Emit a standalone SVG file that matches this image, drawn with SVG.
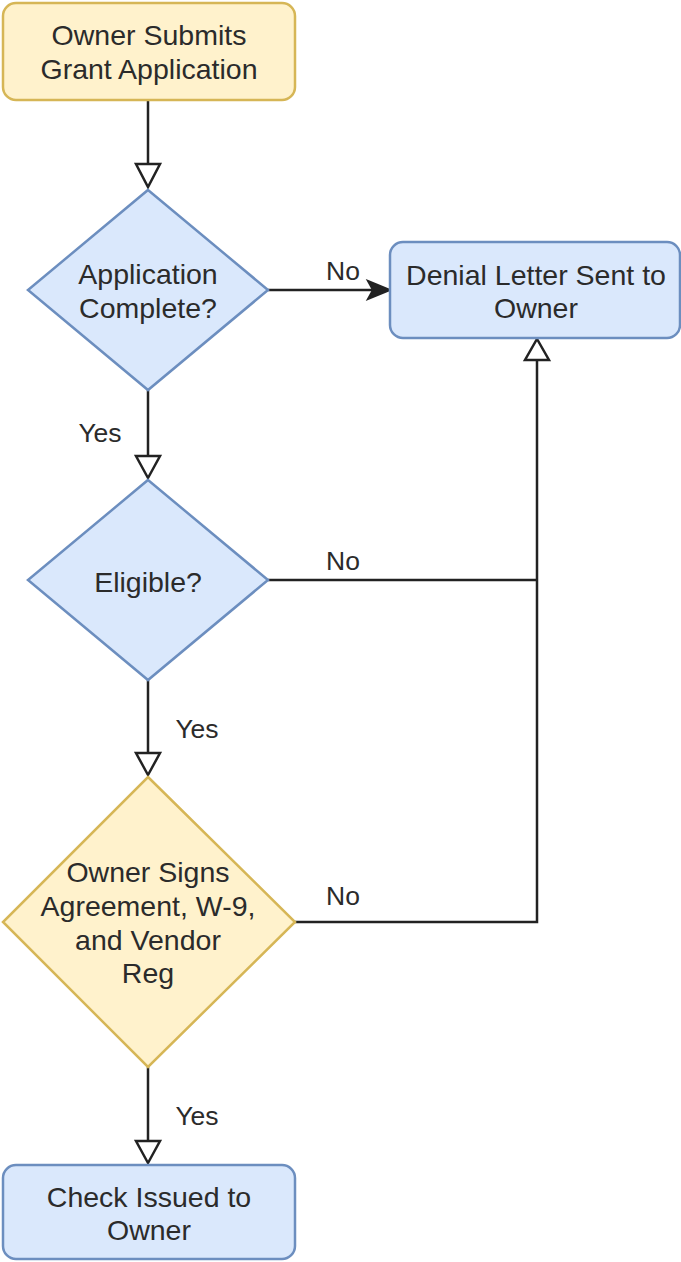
<svg xmlns="http://www.w3.org/2000/svg" width="681" height="1262" viewBox="0 0 681 1262">
<style>
.yel{fill:#fff2cc;stroke:#d6b656;stroke-width:2.5}
.blu{fill:#dae8fc;stroke:#6c8ebf;stroke-width:2.5}
.t{font-family:"Liberation Sans",Arial,sans-serif;font-size:28.5px;fill:#2b2b2b;text-anchor:middle}
.lbl{font-family:"Liberation Sans",Arial,sans-serif;font-size:26.5px;fill:#2b2b2b;text-anchor:middle}
.c{fill:none;stroke:#222;stroke-width:2.5}
.open{fill:#fff;stroke:#222;stroke-width:2.5;stroke-linejoin:miter}
.fill{fill:#222;stroke:#222;stroke-width:2}
</style>
<rect width="681" height="1262" fill="#fff"/>
<g id="connectors">
  <path class="c" d="M148,100 V164"/>
  <path class="open" d="M136,164 L160,164 L148,187 Z"/>
  <path class="c" d="M268,290 H372"/>
  <path class="fill" d="M368,281 L390,290 L368,299 L373,290 Z"/>
  <text class="lbl" x="343" y="280">No</text>
  <path class="c" d="M148,390 V456"/>
  <path class="open" d="M136,456 L160,456 L148,478 Z"/>
  <text class="lbl" x="100" y="442">Yes</text>
  <path class="c" d="M268,580 H537"/>
  <text class="lbl" x="343" y="570">No</text>
  <path class="c" d="M148,680 V753"/>
  <path class="open" d="M136,753 L160,753 L148,775 Z"/>
  <text class="lbl" x="197" y="738">Yes</text>
  <path class="c" d="M295,922 H537 V360"/>
  <path class="open" d="M525,360 L549,360 L537,339 Z"/>
  <text class="lbl" x="343" y="905">No</text>
  <path class="c" d="M148,1067 V1141"/>
  <path class="open" d="M136,1141 L160,1141 L148,1163 Z"/>
  <text class="lbl" x="197" y="1125">Yes</text>
</g>
<g id="n-submit">
  <rect class="yel" x="3" y="3" width="292" height="97" rx="13"/>
  <text class="t" x="149" y="45">Owner Submits</text>
  <text class="t" x="149" y="79">Grant Application</text>
</g>
<g id="n-complete">
  <polygon class="blu" points="148,190 268,290 148,390 28,290"/>
  <text class="t" x="148" y="284">Application</text>
  <text class="t" x="148" y="318">Complete?</text>
</g>
<g id="n-denial">
  <rect class="blu" x="390" y="242" width="290" height="96" rx="13"/>
  <text class="t" x="536" y="285">Denial Letter Sent to</text>
  <text class="t" x="536" y="318">Owner</text>
</g>
<g id="n-eligible">
  <polygon class="blu" points="148,480 268,580 148,680 28,580"/>
  <text class="t" x="148" y="592">Eligible?</text>
</g>
<g id="n-signs">
  <polygon class="yel" points="148,777 295,922 148,1067 3,922"/>
  <text class="t" x="148" y="882">Owner Signs</text>
  <text class="t" x="148" y="916">Agreement, W-9,</text>
  <text class="t" x="148" y="950">and Vendor</text>
  <text class="t" x="148" y="983">Reg</text>
</g>
<g id="n-check">
  <rect class="blu" x="3" y="1165" width="292" height="94" rx="13"/>
  <text class="t" x="149" y="1207">Check Issued to</text>
  <text class="t" x="149" y="1240">Owner</text>
</g>
</svg>
